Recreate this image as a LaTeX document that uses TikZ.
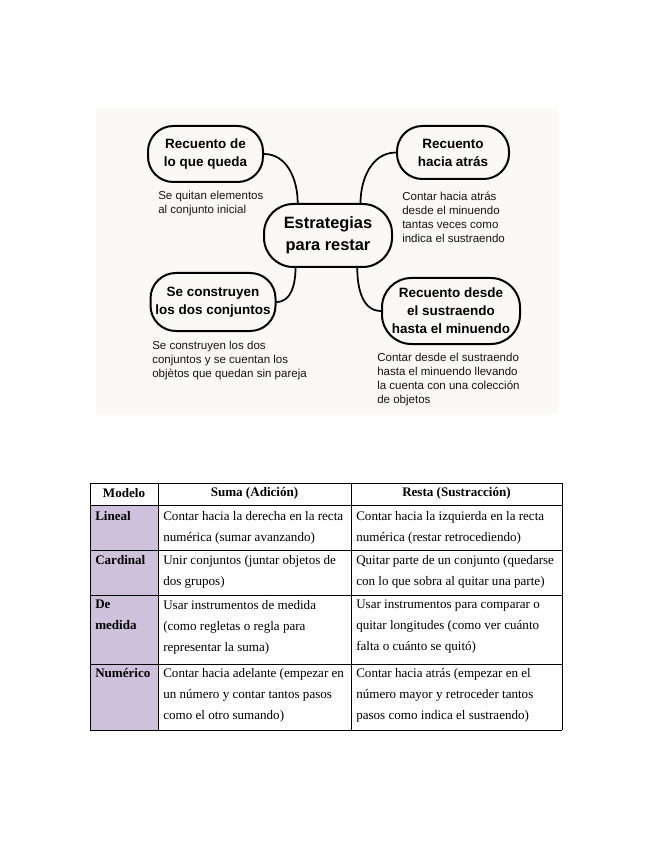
\documentclass[tikz,border=0pt]{standalone}
\usepackage{fontspec}
\setmainfont{Liberation Serif}
\newfontfamily\mapfont{Liberation Sans}
\definecolor{paper}{RGB}{250,249,245}
\definecolor{modelpurple}{RGB}{205,193,220}
\newcommand{\pxunit}{0.75pt}
\tikzset{
  bubble/.style={draw=black, line width=1.5pt, rounded corners=19pt,
    align=center, inner sep=0pt,
    font=\mapfont\bfseries\fontsize{10.1}{13.5}\selectfont},
  branch/.style={line width=1.3pt},
  note/.style={anchor=north west, inner sep=0pt, align=left,
    text=black!92, font=\mapfont\fontsize{8.65}{10.65}\selectfont},
  gridline/.style={line width=0.6pt},
  headcell/.style={inner sep=0pt,
    font=\bfseries\fontsize{9.8}{15.75}\selectfont},
  bodycell/.style={anchor=north west, inner sep=0pt, align=left,
    font=\fontsize{9.8}{15.75}\selectfont}
}

\begin{document}
\begin{tikzpicture}[x=\pxunit, y=-\pxunit]

  \path[use as bounding box] (0,0) rectangle (655,848);

  % mind map<<<
  \fill[paper] (96,108) rectangle (558,414);

  \node[bubble, minimum width=128*\pxunit, minimum height=63*\pxunit,
        rounded corners=22pt,
        font=\mapfont\bfseries\fontsize{12.3}{16.5}\selectfont]
    (strategies) at (328,235.5) {Estrategias\\para restar};

  \node[bubble, minimum width=115*\pxunit, minimum height=56*\pxunit]
    (whatsleft) at (205.5,154) {Recuento de\\lo que queda};
  \node[bubble, minimum width=112*\pxunit, minimum height=53*\pxunit]
    (countback) at (453,152.5) {Recuento\\hacia atrás};
  \node[bubble, minimum width=125*\pxunit, minimum height=58*\pxunit]
    (bothsets) at (213,302) {Se construyen\\los dos conjuntos};
  \node[bubble, minimum width=138*\pxunit, minimum height=66*\pxunit,
        rounded corners=22pt]
    (countup) at (451,311) {Recuento desde\\el sustraendo\\hasta el minuendo};

  \draw[branch] (whatsleft.east) to[out=0, in=90] (strategies.133);
  \draw[branch] (strategies.45) to[out=90, in=180] (countback.west);
  \draw[branch] (strategies.225) to[out=-90, in=0] (bothsets.east);
  \draw[branch] (strategies.312) to[out=-90, in=180] (countup.west);

  \node[note] (whatsleftnote) at (158,190.5)
    {Se quitan elementos\\al conjunto inicial};
  \node[note] (countbacknote) at (402,191.5)
    {Contar hacia atrás\\desde el minuendo\\tantas veces como\\indica el sustraendo};
  \node[note] (bothsetsnote) at (152,340.5)
    {Se construyen los dos\\conjuntos y se cuentan los\\objètos que quedan sin pareja};
  \node[note] (countupnote) at (377,352.5)
    {Contar desde el sustraendo\\hasta el minuendo llevando\\la cuenta con una colección\\de objetos};
  % >>>

  % table<<<
  \fill[modelpurple] (90,505) rectangle (158,730);
  \foreach \y in {483,505,550,595,664,730}{
    \draw[gridline] (90,\y) -- (562,\y);
  }
  \foreach \x in {90,158,351,562}{
    \draw[gridline] (\x,483) -- (\x,730);
  }

  \node[headcell] (modelhead) at (124,493) {Modelo};
  \node[headcell] (addhead) at (254.5,493) {Suma (Adición)};
  \node[headcell] (subhead) at (456.5,493) {Resta (Sustracción)};

  \node[bodycell, font=\bfseries\fontsize{9.8}{15.75}\selectfont]
    (lineal) at (95,511) {Lineal};
  \node[bodycell] (linealadd) at (163,511)
    {Contar hacia la derecha en la recta\\numérica (sumar avanzando)};
  \node[bodycell] (linealsub) at (356,511)
    {Contar hacia la izquierda en la recta\\numérica (restar retrocediendo)};

  \node[bodycell, font=\bfseries\fontsize{9.8}{15.75}\selectfont]
    (cardinal) at (95,555) {Cardinal};
  \node[bodycell] (cardinaladd) at (163,555)
    {Unir conjuntos (juntar objetos de\\dos grupos)};
  \node[bodycell] (cardinalsub) at (356,555)
    {Quitar parte de un conjunto (quedarse\\con lo que sobra al quitar una parte)};

  \node[bodycell, font=\bfseries\fontsize{9.8}{15.75}\selectfont]
    (measure) at (95,600) {De\\medida};
  \node[bodycell] (measureadd) at (163,600)
    {Usar instrumentos de medida\\(como regletas o regla para\\representar la suma)};
  \node[bodycell] (measuresub) at (356,600)
    {Usar instrumentos para comparar o\\quitar longitudes (como ver cuánto\\falta o cuánto se quitó)};

  \node[bodycell, font=\bfseries\fontsize{9.8}{15.75}\selectfont]
    (numeric) at (95,668) {Numérico};
  \node[bodycell] (numericadd) at (163,668)
    {Contar hacia adelante (empezar en\\un número y contar tantos pasos\\como el otro sumando)};
  \node[bodycell] (numericsub) at (356,668)
    {Contar hacia atrás (empezar en el\\número mayor y retroceder tantos\\pasos como indica el sustraendo)};
  % >>>

\end{tikzpicture}
\end{document}
